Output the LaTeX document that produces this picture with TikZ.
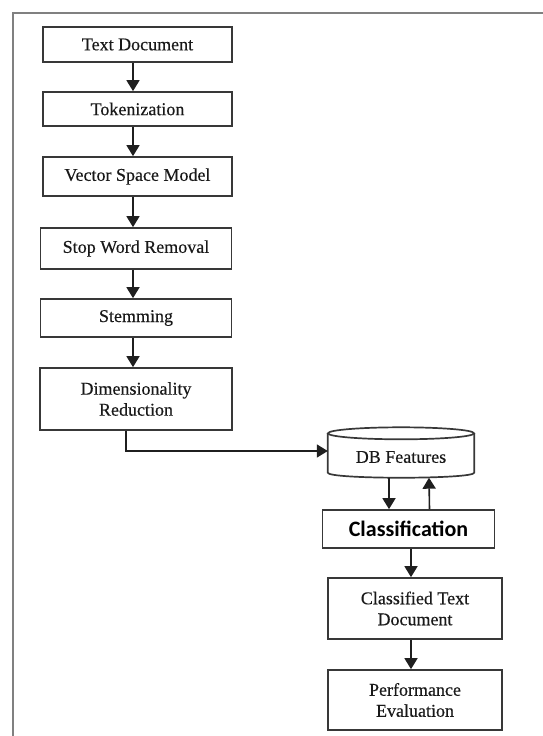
\documentclass[tikz,border=0pt]{standalone}
\usepackage{fontspec}
\setmainfont{Liberation Serif}
\newfontfamily\boxfont[UprightFeatures={FakeBold=0.3}]{Liberation Serif}
\newfontfamily\clsfont{Carlito}
\usetikzlibrary{arrows.meta}
\begin{document}
\begin{tikzpicture}[x=1pt,y=-1pt,
  boxstyle/.style={draw=black!78, line width=1.7pt, inner sep=0pt, align=center,
    text=black!90, font=\boxfont\fontsize{18}{21}\selectfont, fill=white},
  flow/.style={draw=black!88, line width=1.6pt, -{Triangle[width=13pt,length=11pt]}},
  framestyle/.style={draw=black!50, line width=1.6pt}]
\useasboundingbox (0,0) rectangle (542,736);
% outer frame (continues past the page edge)
\draw[framestyle] (13,760) -- (13,13) -- (560,13);

% preprocessing pipeline
\node[boxstyle, minimum width=189, minimum height=35] (td)   at (137.5,44.5) {Text Document};
\node[boxstyle, minimum width=189, minimum height=34] (tok)  at (137.5,109)  {Tokenization};
\node[boxstyle, minimum width=189, minimum height=39] (vsm)  at (137.5,176.5) {Vector Space Model};
\node[boxstyle, minimum width=191, minimum height=41] (swr)  at (136,248.5) {Stop Word Removal};
\node[boxstyle, minimum width=191, minimum height=38] (stem) at (136,318) {Stemming};
\node[boxstyle, minimum width=192, minimum height=62] (dim)  at (136,399) {Dimensionality\\Reduction};

% feature database: an empty node gives the extent, the cylinder is drawn around it
\node[inner sep=0pt, minimum width=146, minimum height=50] (db) at (401,452.5) {};
\draw[draw=black!78, line width=1.7pt]
  ([yshift=-6]db.north west) -- ([yshift=5]db.south west)
  .. controls ([yshift=-1.7]db.south west) and ([yshift=-1.7]db.south east) .. ([yshift=5]db.south east)
  -- ([yshift=-6]db.north east);
\draw[draw=black!78, line width=1.7pt] ([yshift=-6]db.north) ellipse [x radius=73, y radius=6];
\node[inner sep=0pt, text=black!90, font=\boxfont\fontsize{18}{21}\selectfont] (dblabel) at ([yshift=-4.5]db.center) {DB Features};

% classification stage
\node[boxstyle, minimum width=172, minimum height=38, font=\clsfont\bfseries\fontsize{22}{26}\selectfont, text=black]
  (cls) at (408.5,529) {Classification};
\node[boxstyle, minimum width=174, minimum height=61] (ctd) at (415,608.5) {Classified Text\\Document};
\node[boxstyle, minimum width=174, minimum height=60] (pe)  at (415,700) {Performance\\Evaluation};

% connectors
\draw[flow] ([xshift=-4.5]td.south)  -- ([xshift=-4.5]tok.north);
\draw[flow] ([xshift=-4.5]tok.south) -- ([xshift=-4.5]vsm.north);
\draw[flow] ([xshift=-4.5]vsm.south) -- ([xshift=-3]swr.north);
\draw[flow] ([xshift=-3]swr.south)   -- ([xshift=-3]stem.north);
\draw[flow] ([xshift=-3]stem.south)  -- ([xshift=-3]dim.north);
\draw[flow] ([xshift=-10]dim.south) |- ([yshift=1.5]db.west);
\draw[flow] ([xshift=-12]db.south) -- ([xshift=-19.5]cls.north);
\draw[flow] ([xshift=21]cls.north) -- ([xshift=28]db.south);
\draw[flow] ([xshift=2.5]cls.south) -- ([xshift=-4]ctd.north);
\draw[flow] ([xshift=-4]ctd.south) -- ([xshift=-4]pe.north);
\end{tikzpicture}
\end{document}
